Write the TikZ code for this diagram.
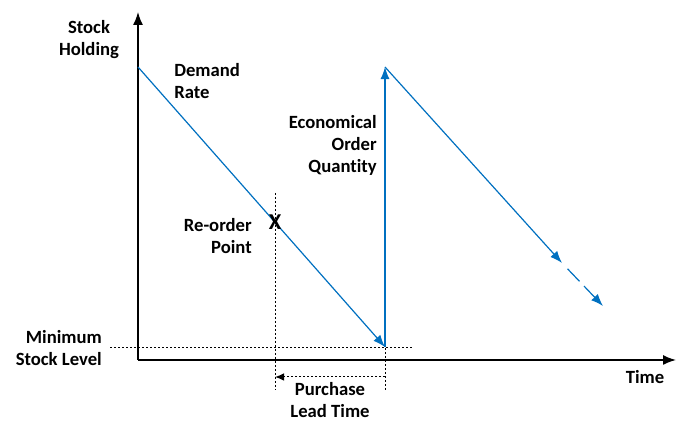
\documentclass[tikz,border=0pt]{standalone}
\usepackage{fontspec}
\setmainfont{Carlito}[Ligatures=NoCommon]
\usetikzlibrary{arrows.meta}
\definecolor{flow}{HTML}{0070C0}

\begin{document}
\begin{tikzpicture}[x=0.75pt,y=-0.75pt,
  lbl/.style={font=\fontsize{14}{16.5}\selectfont\bfseries,inner sep=0pt},
  axis/.style={line width=1.1pt,-{Latex[length=3.4mm,width=2.6mm]}},
  stockline/.style={flow,line width=0.9pt,-{Latex[length=3.2mm,width=2.4mm]}},
  guide/.style={dash pattern=on 1.5pt off 1.5pt,line width=0.75pt}]
  \useasboundingbox (0,0) rectangle (676,423);
  % axes
  \coordinate (o) at (138,360);
  \coordinate (ytop) at (138,12);
  \coordinate (xend) at (676,360);
  \draw[axis] (o) -- (ytop);
  \draw[axis] (o) -- (xend);
  % saw-tooth of the stock level
  \coordinate (top1) at (138,67);
  \coordinate (low1) at (385,347);
  \coordinate (top2) at (385,67);
  \coordinate (mid2) at (562,263);
  \coordinate (end2) at (603,306);
  \draw[stockline] (top1) -- (low1);
  \draw[stockline] (low1) -- (top2);
  \draw[stockline] (top2) -- (mid2);
  \draw[stockline,dash pattern=on 0pt off 6pt on 13pt off 5pt on 40pt] (mid2) -- (end2);
  % guide lines
  \coordinate (minl) at (110,348);
  \coordinate (minr) at (413,348);
  \coordinate (rtop) at (275,193);
  \coordinate (rbot) at (275,390);
  \coordinate (ltop) at (385,348);
  \coordinate (lbot) at (385,392);
  \coordinate (la) at (385,377);
  \coordinate (lb) at (275,377);
  \draw[guide] (minl) -- (minr);
  \draw[guide] (rtop) -- (rbot);
  \draw[guide] (ltop) -- (lbot);
  \draw[guide,-{Latex[length=2.4mm,width=2mm]}] (la) -- (lb);
  % labels
  \node[lbl,align=center] (stock) at (89,40) {Stock\\Holding};
  \node[lbl,align=left,anchor=west] (demand) at (174,81) {Demand\\Rate};
  \node[lbl,font=\fontsize{17}{18}\selectfont\bfseries] (cross) at (275,222) {X};
  \node[lbl,align=right,anchor=east] (reorder) at (252,236) {Re-order\\Point};
  \node[lbl,align=right,anchor=east] (eoq) at (377,145) {Economical\\Order\\Quantity};
  \node[lbl,align=right,anchor=east] (minlevel) at (102,348) {Minimum\\Stock Level};
  \node[lbl] (time) at (645,377) {Time};
  \node[lbl,align=center] (lead) at (330,400) {Purchase\\Lead Time};
\end{tikzpicture}
\end{document}
